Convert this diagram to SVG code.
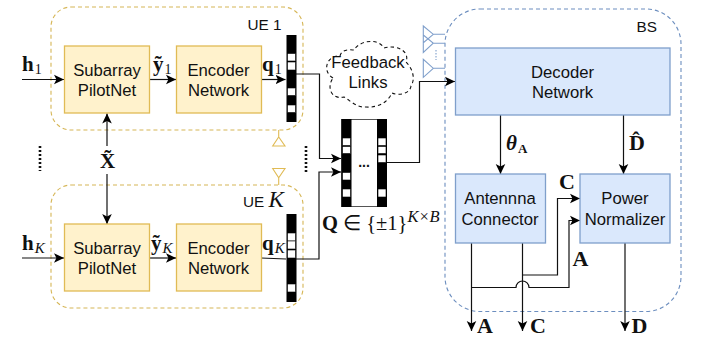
<svg xmlns="http://www.w3.org/2000/svg" width="710" height="337" viewBox="0 0 710 337">
<style>
.ue{fill:none;stroke:#d6b656;stroke-width:1.1;stroke-dasharray:4 3}
.bs{fill:none;stroke:#6c8ebf;stroke-width:1.1;stroke-dasharray:4 3}
.y{fill:#fff2cc;stroke:#e0bb55;stroke-width:1.3}
.b{fill:#dae8fc;stroke:#7f9fcb;stroke-width:1.3}
.t{font-family:"Liberation Sans",Arial,sans-serif;font-size:16.7px;fill:#111;text-anchor:middle}
.l{font-family:"Liberation Sans",Arial,sans-serif;font-size:15.3px;fill:#111}
.m{font-family:"Liberation Serif","Times New Roman",serif;font-weight:bold;font-size:21px;fill:#111}
.cap{font-size:22px}
.s{font-family:"Liberation Serif","Times New Roman",serif;font-weight:normal;font-size:14px;fill:#111}
.si{font-family:"Liberation Serif","Times New Roman",serif;font-weight:normal;font-style:italic;font-size:15px;fill:#111}
.c{fill:none;stroke:#111;stroke-width:1.2}
.a{marker-end:url(#arrow)}
.blk{fill:#000}
.cell{fill:#fff;stroke:#000;stroke-width:.6}
.ya{fill:none;stroke:#e0bb55;stroke-width:1.1}
.ba{fill:none;stroke:#7f9fcb;stroke-width:1.1}
.dots{fill:none;stroke:#111;stroke-width:2.6;stroke-dasharray:2 2}
</style>
<defs>
<marker id="arrow" markerUnits="userSpaceOnUse" markerWidth="12" markerHeight="12" viewBox="0 -6 12 12" refX="10" refY="0" orient="auto">
<path d="M0,-4.8 L10,0 L0,4.8 L2.4,0z" fill="#000"/>
</marker>
</defs>
<g id="ue1">
<rect class="ue" x="51" y="7" width="252" height="123" rx="20"/>
<text class="l" x="247.5" y="30">UE 1</text>
</g>
<g id="ueK">
<rect class="ue" x="51" y="185" width="252" height="123" rx="20"/>
<text class="l" x="243" y="207">UE <tspan font-family="'Liberation Serif',serif" font-style="italic" font-size="23">K</tspan></text>
</g>
<g id="bs">
<rect class="bs" x="445" y="9" width="236" height="302.5" rx="35"/>
<text class="l" x="636.5" y="31.5">BS</text>
</g>
<g id="connectors">
<path class="c a" d="M22,79.5H64"/>
<path class="c a" d="M149.5,79.5H176"/>
<path class="c a" d="M261,79.5H285.5"/>
<path class="c a" d="M107,146V113.5"/>
<path class="c a" d="M107,174V224"/>
<path class="c a" d="M22,258H64"/>
<path class="c a" d="M149.5,258H176"/>
<path class="c" d="M261,258L286,259"/>
<path class="c a" d="M296,74H319.5V158.5H341"/>
<path class="c a" d="M296,259H319V172H341"/>
<path class="c a" d="M386.5,162.5H419.5V81.5H455"/>
<path class="c a" d="M500.5,115V174"/>
<path class="c a" d="M623.5,115V174"/>
<path class="c a" d="M471.5,243V331"/>
<path class="c a" d="M522.5,243V331"/>
<path class="c a" d="M625,243V331"/>
<path class="c a" d="M522.5,275H557.5V198.5H580"/>
<path class="c a" d="M471.5,287.5H516A6.5,6.5 0 0 1 529,287.5H569V220.5H580"/>
</g>
<g id="subarray1"><rect class="y" x="64.5" y="46" width="85" height="67"/><text class="t" x="107" y="76">Subarray</text><text class="t" x="107" y="96">PilotNet</text></g>
<g id="encoder1"><rect class="y" x="176.5" y="46" width="85" height="67"/><text class="t" x="218.5" y="76">Encoder</text><text class="t" x="218.5" y="96">Network</text></g>
<g id="subarrayK"><rect class="y" x="64.5" y="224" width="85" height="67"/><text class="t" x="107" y="254">Subarray</text><text class="t" x="107" y="274">PilotNet</text></g>
<g id="encoderK"><rect class="y" x="176.5" y="224" width="85" height="67"/><text class="t" x="218.5" y="254">Encoder</text><text class="t" x="218.5" y="274">Network</text></g>
<g id="bar1">
<rect class="blk" x="286.5" y="35" width="10" height="87"/>
<rect class="cell" x="287.5" y="53.5" width="8" height="7.5"/><rect class="cell" x="287.5" y="62" width="8" height="8"/><rect class="cell" x="287.5" y="88" width="8" height="7.5"/><rect class="cell" x="287.5" y="105" width="8" height="7.5"/>
</g>
<g id="barK">
<rect class="blk" x="286.5" y="214" width="10" height="88"/>
<rect class="cell" x="287.5" y="233" width="8" height="8"/><rect class="cell" x="287.5" y="241" width="8" height="8"/><rect class="cell" x="287.5" y="250" width="8" height="8"/><rect class="cell" x="287.5" y="284" width="8" height="8"/>
</g>
<g id="matrixQ">
<rect x="341.5" y="119.5" width="45" height="87" fill="#fff" stroke="#555"/>
<rect class="blk" x="341.5" y="119" width="10" height="88"/><rect class="blk" x="377" y="119" width="10" height="88"/>
<rect class="cell" x="342.5" y="138" width="8" height="7.5"/><rect class="cell" x="342.5" y="146.5" width="8" height="7"/><rect class="cell" x="342.5" y="172.5" width="8" height="7.5"/><rect class="cell" x="342.5" y="189" width="8" height="8"/>
<rect class="cell" x="378" y="138" width="8" height="7.5"/><rect class="cell" x="378" y="146.5" width="8" height="7"/><rect class="cell" x="378" y="155" width="8" height="7.5"/><rect class="cell" x="378" y="189" width="8" height="8"/>
<text x="364" y="167" font-family="'Liberation Sans',sans-serif" font-size="14" font-weight="bold" text-anchor="middle" fill="#111">...</text>
<text x="322" y="230" font-family="'Liberation Serif',serif" font-size="20.5" fill="#111"><tspan font-weight="bold">Q</tspan> ∈ {±1}<tspan class="si" dy="-8" style="font-size:16.5px">K×B</tspan></text>
</g>
<g id="cloud">
<path d="M333,78C322,72 326,55 340,56C342,48 352,50 354,50C360,40 378,38 384,48C398,44 410,52 406,62C412,68 416,78 411,86C410,94 398,96 392,93C388,102 378,108 366,107C356,108 350,100 344,97C332,100 326,88 333,78Z" fill="none" stroke="#111" stroke-width="1.1" stroke-dasharray="3.5 3"/>
<text class="t" x="368" y="68">Feedback</text><text class="t" x="368" y="88">Links</text>
</g>
<g id="ueAntennas">
<path class="ya" d="M278.7,130V137M272.7,146H285L278.7,137Z"/>
<path class="ya" d="M278.7,185V177.7M272.7,168.5H285L278.7,177.7Z"/>
</g>
<g id="bsAntennas">
<path class="ba" d="M445,34.3H433.3L423.3,26V42.7L433.3,34.3M445,43.2H433.3L423.3,35V52.5L433.3,43.2M445,68.3H433.3L423.3,59.3V77.3L433.3,68.3"/>
<path class="ba" stroke-dasharray="1.5 1.5" d="M436,50V60"/>
</g>
<g id="dots">
<path class="dots" d="M40,146V171"/>
<path class="dots" d="M306,146V172"/>
</g>
<g id="labels">
<text class="m" x="22" y="71">h<tspan class="s" dx="1" dy="3">1</tspan></text>
<text class="m" x="153" y="71">ỹ<tspan class="s" dx="1" dy="3">1</tspan></text>
<text class="m" x="262" y="71">q<tspan class="s" dx="1" dy="3">1</tspan></text>
<text class="m" x="100" y="168">X̃</text>
<text class="m" x="22" y="250">h<tspan class="si" dx="1" dy="3">K</tspan></text>
<text class="m" x="151" y="250">ỹ<tspan class="si" dx="1" dy="3">K</tspan></text>
<text class="m" x="262" y="250">q<tspan class="si" dx="1" dy="3">K</tspan></text>
<text class="m" x="506" y="149.5" font-style="italic">θ<tspan font-style="normal" font-size="13" dx="1" dy="3">A</tspan></text>
<text class="m cap" x="629" y="150">D̂</text>
<text class="m cap" x="559" y="189">C</text>
<text class="m cap" x="572.5" y="266">A</text>
<text class="m cap" x="477" y="332.5">A</text>
<text class="m cap" x="530" y="332.5">C</text>
<text class="m cap" x="631.5" y="332.5">D</text>
</g>
<g id="decoder"><rect class="b" x="455.5" y="48" width="214.5" height="67"/><text class="t" x="562.5" y="78">Decoder</text><text class="t" x="562.5" y="98">Network</text></g>
<g id="antennaConnector"><rect class="b" x="455.5" y="174" width="90" height="69"/><text class="t" x="500" y="204">Antennna</text><text class="t" x="500" y="225">Connector</text></g>
<g id="powerNormalizer"><rect class="b" x="580" y="174" width="90" height="69"/><text class="t" x="625" y="204">Power</text><text class="t" x="625" y="225">Normalizer</text></g>
</svg>
